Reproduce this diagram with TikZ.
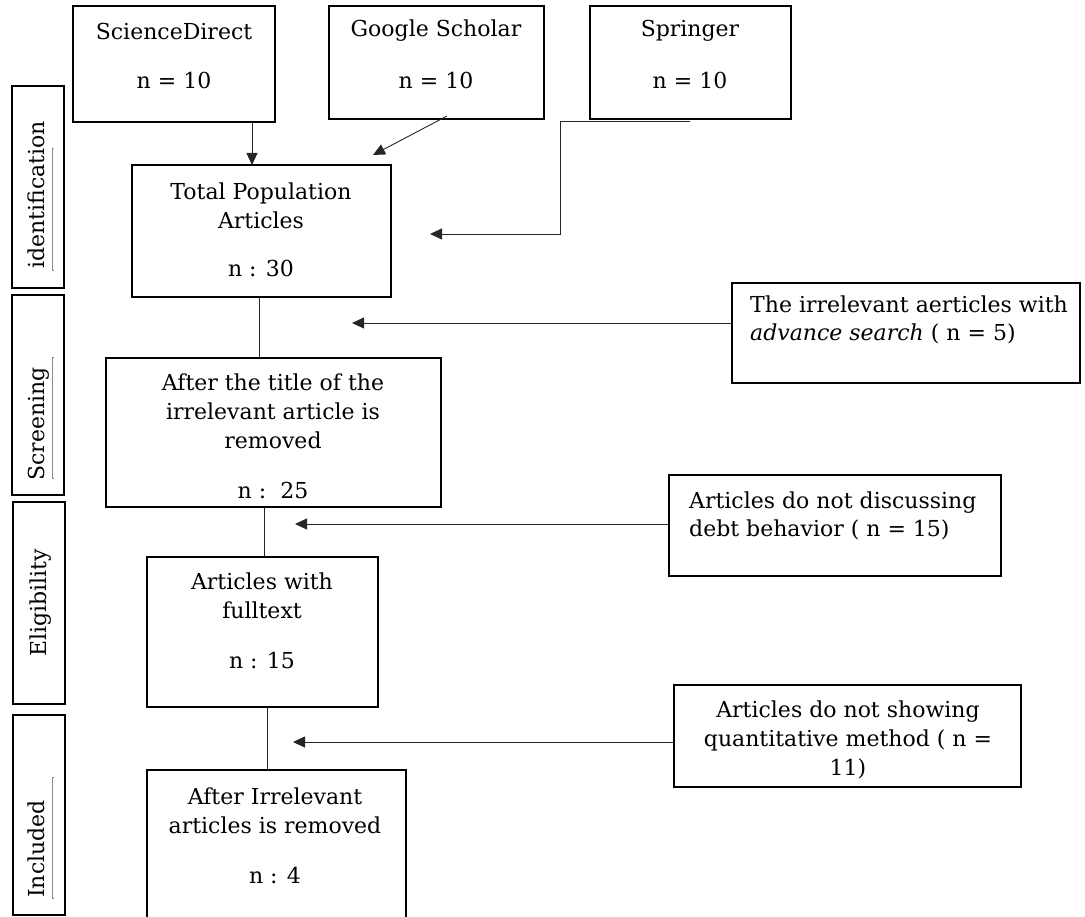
\documentclass[tikz,border=0pt]{standalone}
\usepackage{fontspec}
\setmainfont{DejaVu Serif}
\usetikzlibrary{arrows.meta,fit}
\tikzset{
  box/.style={draw=black, line width=1.5pt, inner sep=0pt, fill=none},
  txt/.style={inner sep=0pt, font=\fontsize{22}{29}\selectfont, align=center},
  ltxt/.style={inner sep=0pt, font=\fontsize{22}{28}\selectfont, align=left, anchor=west},
  vlab/.style={inner sep=0pt, font=\fontsize{22}{29}\selectfont, rotate=90, anchor=base},
  conn/.style={draw=black!85, line width=0.9pt},
  arr/.style={conn, -{Triangle[length=12pt,width=11pt]}},
  brk/.style={draw=black!45, line width=0.7pt},
}
\begin{document}
\begin{tikzpicture}[x=1pt,y=-1pt]
\useasboundingbox (0,0) rectangle (1085,917);
% side labels
\node[box, fit={(12,86) (64,288)}] (l1) {};
\node[box, fit={(12,295) (64,495)}] (l2) {};
\node[box, fit={(13,502) (65,704)}] (l3) {};
\node[box, fit={(13,715) (65,915)}] (l4) {};
\node[vlab] (l1t) at (44,195) {identification};
\node[vlab] (l2t) at (44,424) {Screening};
\node[vlab] (l3t) at (46,603) {Eligibility};
\node[vlab] (l4t) at (44,849) {Included};
\draw[brk] (54,148) -- (52,148) -- (52,270) -- (54,270);
\draw[brk] (54,357) -- (52,357) -- (52,478) -- (54,478);
\draw[brk] (54,777) -- (52,777) -- (52,898) -- (54,898);
% source boxes
\node[box, fit={(73,6) (275,122)}] (sd) {};
\node[box, fit={(329,6) (544,119)}] (gs) {};
\node[box, fit={(590,6) (791,119)}] (sp) {};
\node[txt] (sdt) at (174,31) {ScienceDirect};
\node[txt] (sdn) at (174,80) {n = 10};
\node[txt] (gst) at (436,31) {Google Scholar};
\node[txt] (gsn) at (436,80) {n = 10};
\node[txt] (spt) at (690,31) {Springer};
\node[txt] (spn) at (690,80) {n = 10};
% main flow
\node[box, fit={(132,165) (391,297)}] (tot) {};
\node[txt] (tott) at (261,206) {Total Population\\Articles};
\node[txt] (totn) at (261,268) {n : 30};
\node[box, fit={(106,358) (441,507)}] (scr) {};
\node[txt] (scrt) at (273,411) {After the title of the\\irrelevant article is\\removed};
\node[txt] (scrn) at (273,490) {n :\ \ 25};
\node[box, fit={(147,557) (378,707)}] (eli) {};
\node[txt] (elit) at (262,596) {Articles with\\fulltext};
\node[txt] (elin) at (262,660) {n : 15};
\node[box, fit={(147,770) (406,940)}] (inc) {};
\node[txt] (inct) at (275,811) {After Irrelevant\\articles is removed};
\node[txt] (incn) at (275,875) {n : 4};
% exclusion boxes
\node[box, fit={(732,283) (1080,383)}] (adv) {};
\node[ltxt] (advt) at (750,320) {The irrelevant aerticles with\\\textit{advance search} ( n = 5)};
\node[box, fit={(669,475) (1001,576)}] (debt) {};
\node[ltxt] (debtt) at (689,516) {Articles do not discussing\\debt behavior ( n = 15)};
\node[box, fit={(674,685) (1021,787)}] (quant) {};
\node[txt] (quantt) at (848,740) {Articles do not showing\\quantitative method ( n =\\11)};
% coordinates for free ends
\coordinate (c1) at (252,165);
\coordinate (g0) at (447,116);
\coordinate (g1) at (373,155);
\coordinate (s0) at (690,121);
\coordinate (s1) at (560,121);
\coordinate (s2) at (560,234);
\coordinate (s3) at (430,234);
\coordinate (a1) at (352,323);
\coordinate (d1) at (295,524);
\coordinate (q1) at (293,742);
\coordinate (v1) at (259,0);
\coordinate (v2) at (264,0);
\coordinate (v3) at (267,0);
% connectors
\draw[arr] (sd.south -| c1) -- (c1);
\draw[arr] (g0) -- (g1);
\draw[arr] (s0) -- (s1) -- (s2) -- (s3);
\draw[conn] (tot.south -| v1) -- (scr.north -| v1);
\draw[conn] (scr.south -| v2) -- (eli.north -| v2);
\draw[conn] (eli.south -| v3) -- (inc.north -| v3);
\draw[arr] (adv.west |- a1) -- (a1);
\draw[arr] (debt.west |- d1) -- (d1);
\draw[arr] (quant.west |- q1) -- (q1);
\end{tikzpicture}
\end{document}
